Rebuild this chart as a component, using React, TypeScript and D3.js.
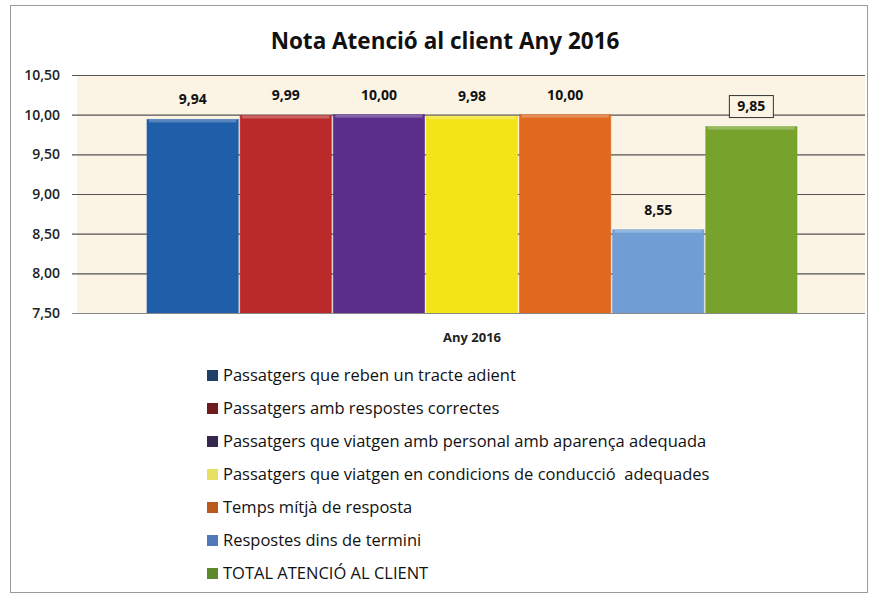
import { useRef, useEffect } from 'react';
import { select, scaleBand, scaleLinear, axisLeft } from 'd3';

const W = 875;
const H = 596;
const margin = { top: 75, right: 10, bottom: 283, left: 77 };
const plotW = 865 - margin.left;
const plotH = 313 - margin.top;

const categories = [
  'Passatgers que reben un tracte adient',
  'Passatgers amb respostes correctes',
  'Passatgers que viatgen amb personal amb aparença adequada',
  'Passatgers que viatgen en condicions de conducció  adequades',
  'Temps mítjà de resposta',
  'Respostes dins de termini',
  'TOTAL ATENCIÓ AL CLIENT',
];
const values = [9.94, 9.99, 10.0, 9.98, 10.0, 8.55, 9.85];
const colors = ['#1f5ea8', '#bb2a2a', '#5c2e8c', '#f2e416', '#e0681f', '#6f9dd4', '#77a32c'];
const swatchColors = ['#1f3f66', '#6e1a1e', '#35264e', '#e8e060', '#b85a20', '#4f78b8', '#5c8a2a'];
const yTicks = [7.5, 8.0, 8.5, 9.0, 9.5, 10.0, 10.5];
const xLabel = 'Any 2016';
const title = 'Nota Atenció al client Any 2016';

const font = '"Open Sans", "Noto Sans", sans-serif';
const fmt = (v: number) => v.toFixed(2).replace('.', ',');

const App = () => {
  const ref = useRef<SVGSVGElement | null>(null);

  useEffect(() => {
    document.body.style.margin = '0';
    if (!ref.current) return;
    const root = select(ref.current);
    root.selectAll('*').remove();

    // outer frame
    root.append('rect')
      .attr('x', 10.5).attr('y', 5.5).attr('width', 857).attr('height', 587)
      .attr('fill', '#ffffff').attr('stroke', '#9a9a9a').attr('stroke-width', 1);

    root.append('text')
      .attr('x', 445).attr('y', 49)
      .attr('text-anchor', 'middle')
      .style('font-family', font)
      .style('font-weight', 'bold').style('font-size', '22.5px').attr('fill', '#111')
      .text(title);

    const svg = root.append('g').attr('transform', `translate(${margin.left}, ${margin.top})`);

    const y = scaleLinear().domain([7.5, 10.5]).range([plotH, 0]);
    const x = scaleBand().domain(categories).range([70, plotW - 68]).paddingInner(0.02);

    svg.append('rect').attr('width', plotW).attr('height', plotH).attr('fill', '#fbf3e3');

    const grid = svg.append('g').call(
      axisLeft(y).tickValues(yTicks).tickSize(-plotW - 5).tickFormat(() => '')
    ).attr('transform', 'translate(-5,0)');
    grid.select('.domain').remove();
    grid.selectAll('line').attr('stroke', '#555').attr('stroke-width', 1.2);

    const yAxis = svg.append('g').call(
      axisLeft(y).tickValues(yTicks).tickSize(0).tickPadding(17).tickFormat((d) => fmt(+d))
    );
    yAxis.select('.domain').remove();
    yAxis.selectAll('text')
      .style('font-family', font)
      .style('font-size', '14px').style('font-weight', '600').attr('fill', '#222');

    // bars
    svg.selectAll('rect.bar')
      .data(values)
      .enter()
      .append('rect')
      .attr('class', 'bar')
      .attr('x', (_, i) => x(categories[i]) as number)
      .attr('width', x.bandwidth())
      .attr('y', (d) => y(d))
      .attr('height', (d) => plotH - y(d))
      .attr('fill', (_, i) => colors[i])
      .attr('stroke', (_, i) => colors[i])
      .attr('stroke-opacity', 0.6);

    // light top bevel
    svg.selectAll('rect.top')
      .data(values)
      .enter()
      .append('rect')
      .attr('class', 'top')
      .attr('x', (_, i) => (x(categories[i]) as number) + 2)
      .attr('width', x.bandwidth() - 4)
      .attr('y', (d) => y(d))
      .attr('height', 3)
      .attr('fill', '#ffffff')
      .attr('opacity', 0.25);

    // value labels
    const labels = svg.selectAll('g.lbl')
      .data(values)
      .enter()
      .append('g')
      .attr('class', 'lbl')
      .attr('transform', (d, i) => `translate(${(x(categories[i]) as number) + x.bandwidth() / 2}, ${y(d) - 20})`);

    labels.each(function (d, i) {
      const g = select(this);
      if (i === values.length - 1) {
        g.append('rect').attr('x', -22).attr('y', -11).attr('width', 44).attr('height', 22)
          .attr('fill', '#fbf3e3').attr('stroke', '#333').attr('stroke-width', 1);
      }
      g.append('text')
        .attr('text-anchor', 'middle').attr('dy', '0.35em')
        .style('font-family', font)
        .style('font-size', '14px').style('font-weight', 'bold').attr('fill', '#111')
        .text(fmt(d as number));
    });

    // axis base line
    svg.append('line').attr('x1', -5).attr('x2', plotW).attr('y1', plotH + 0.5).attr('y2', plotH + 0.5)
      .attr('stroke', '#888');

    svg.append('text')
      .attr('x', (x.range()[0] + x.range()[1]) / 2).attr('y', plotH + 29)
      .attr('text-anchor', 'middle')
      .style('font-family', font)
      .style('font-size', '13px').style('font-weight', 'bold').attr('fill', '#222')
      .text(xLabel);

    // legend
    const legend = root.append('g').attr('transform', 'translate(207, 375)');
    const rows = legend.selectAll('g').data(categories).enter().append('g')
      .attr('transform', (_, i) => `translate(0, ${i * 33})`);
    rows.append('rect').attr('x', 0).attr('y', -5).attr('width', 11).attr('height', 11)
      .attr('fill', (_, i) => swatchColors[i]);
    rows.append('text').attr('x', 16).attr('dy', '0.35em')
      .style('font-family', font)
      .style('font-size', '16.5px').style('white-space', 'pre').attr('fill', '#111')
      .text((d) => d);
  }, []);

  return <svg ref={ref} width={W} height={H} style={{ display: 'block' }} />;
};

export default App;
